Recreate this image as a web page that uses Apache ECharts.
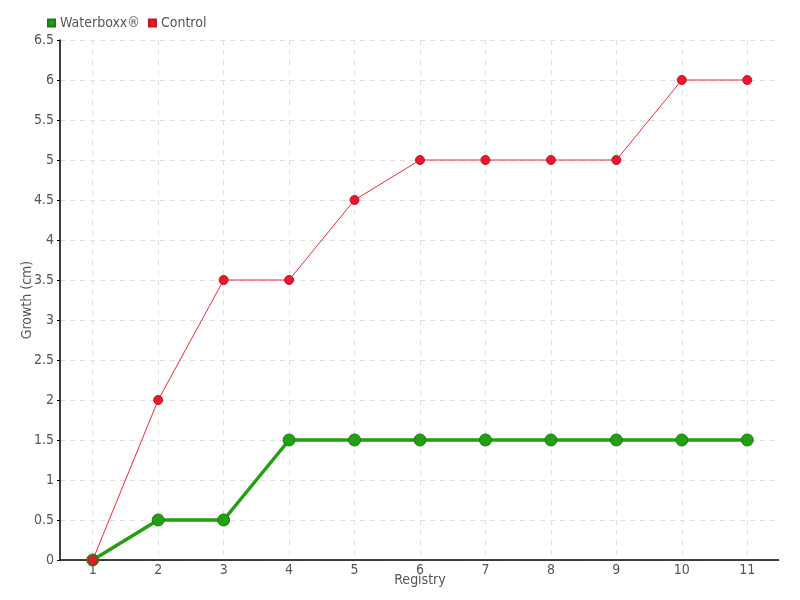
<!DOCTYPE html>
<html>
<head>
<meta charset="utf-8">
<script src="https://cdn.jsdelivr.net/npm/echarts@6/dist/echarts.min.js"></script>
<style>
  html, body { margin: 0; padding: 0; background: #fff; }
  #chart { width: 800px; height: 600px; }
</style>
</head>
<body>
<div id="chart"></div>
<script>
const registry = ['1', '2', '3', '4', '5', '6', '7', '8', '9', '10', '11']
const waterboxx = [0, 0.5, 0.5, 1.5, 1.5, 1.5, 1.5, 1.5, 1.5, 1.5, 1.5]
const control = [0, 2, 3.5, 3.5, 4.5, 5, 5, 5, 5, 6, 6]

const font = "'DejaVu Sans Condensed', 'DejaVu Sans', sans-serif"
const chart = echarts.init(document.getElementById('chart'))

chart.setOption({
  animation: false,
  textStyle: { fontFamily: font },
  legend: {
    left: 42, top: 11, itemWidth: 7, itemHeight: 7, itemGap: 8,
    icon: 'rect',
    textStyle: { color: '#555', fontSize: 14, fontFamily: font },
    data: ['Waterboxx®', 'Control']
  },
  grid: { left: 60, right: 20, top: 40, bottom: 40 },
  xAxis: {
    type: 'category', data: registry, boundaryGap: true,
    name: 'Registry', nameLocation: 'middle', nameGap: 13, nameMoveOverlap: false,
    nameTextStyle: { color: '#555', fontSize: 14, fontFamily: font },
    axisLine: { lineStyle: { color: '#000', width: 1.5 } },
    axisTick: { alignWithLabel: true, length: 4, lineStyle: { color: '#000' } },
    axisLabel: { color: '#555', fontSize: 14, margin: 3, fontFamily: font },
    splitLine: {
      show: true, alignWithLabel: true,
      lineStyle: { color: '#e0e0e0', type: [5, 5] }
    }
  },
  yAxis: [
    {
      type: 'value', min: 0, max: 6.5, interval: 0.5,
      name: 'Growth (cm)', nameLocation: 'middle', nameGap: 26, nameMoveOverlap: false,
      nameTextStyle: { color: '#555', fontSize: 14, fontFamily: font },
      axisLine: { show: true, lineStyle: { color: '#000', width: 1.5 } },
      axisTick: { show: true, length: 3, lineStyle: { color: '#000' } },
      axisLabel: { color: '#555', fontSize: 14, margin: 6, fontFamily: font },
      splitLine: { lineStyle: { color: '#e0e0e0', type: [5, 5] } }
    },
    {
      // plain white edge on the right, hides the extra split line there
      type: 'value', position: 'right', min: 0, max: 6.5, interval: 0.5, z: 5,
      axisLine: { show: true, lineStyle: { color: '#fff', width: 3 } },
      axisTick: { show: false }, axisLabel: { show: false }, splitLine: { show: false }
    }
  ],
  series: [
    {
      name: 'Waterboxx®', type: 'line', data: waterboxx,
      symbol: 'circle', symbolSize: 12,
      lineStyle: { color: '#22a010', width: 3.5 },
      itemStyle: { color: '#22a010', borderColor: '#1a7a14', borderWidth: 1 }
    },
    {
      name: 'Control', type: 'line', data: control,
      symbol: 'circle', symbolSize: 9,
      lineStyle: { color: '#f0283c', width: 1 },
      itemStyle: { color: '#e8192c', borderColor: '#c81424', borderWidth: 1 }
    }
  ]
})
</script>
</body>
</html>
